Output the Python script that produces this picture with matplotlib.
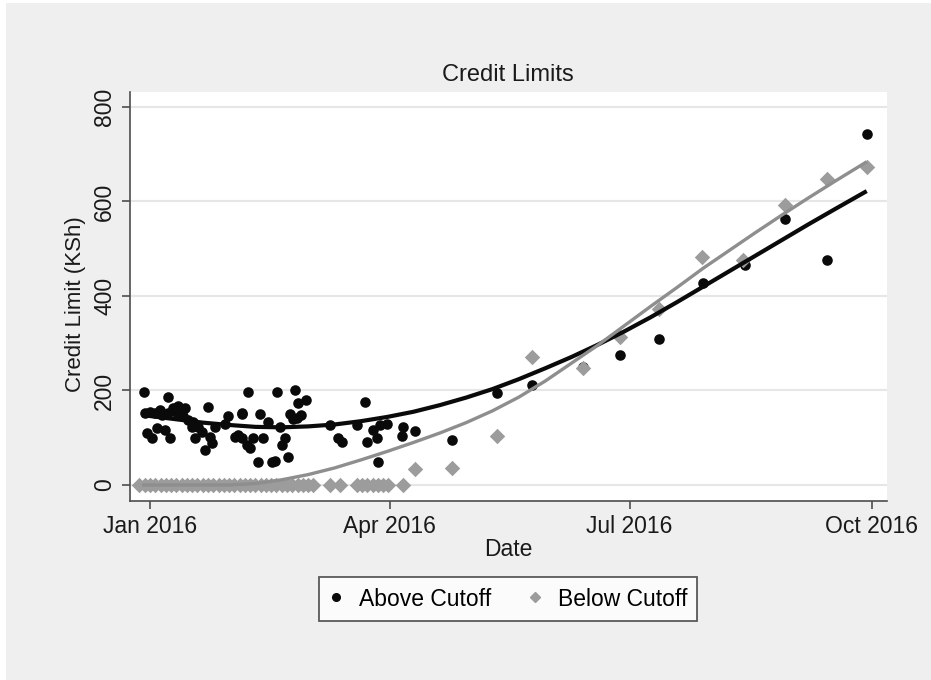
import matplotlib
matplotlib.use("Agg")
import matplotlib.pyplot as plt
from matplotlib.lines import Line2D
from matplotlib.patches import Rectangle

plt.rcParams["font.family"] = ["Liberation Sans", "DejaVu Sans"]

# days since 1 Jan 2016
above_day = [-2.2, 6.7, 22.1, -1.9, 0.0, 1.9, 3.8, 4.4, 6.9, 8.8, 10.7, 12.0, 13.3,
             10.1, 12.6, 14.5, 16.4, 15.8, 18.3, 19.6, 22.8, 23.4, 20.9, 17.1, 24.7,
             29.7, 28.5, -1.3, 0.6, 2.5, 5.7, 7.6, 32.3, 34.8,
             37.1, 48.1, 55.0, 56.3, 59.1, 35.0, 41.7, 53.1, 57.3, 54.4, 44.9, 49.3,
             33.5, 34.8, 39.2, 43.0, 36.7, 38.0, 51.2, 50.0, 41.1, 46.2, 47.4, 52.3,
             55.6, 68.3, 71.5, 72.8, 78.4, 81.6, 82.5, 84.7, 86.0, 87.3, 89.8, 86.4,
             96.1, 95.5, 100.6,
             114.6, 131.8, 144.9, 164.4, 178.4, 193.3, 209.7, 225.8, 240.9, 256.8, 272.1]
above_val = [197, 186, 166, 152, 155, 152, 159, 148, 152, 162, 167, 159, 162,
             152, 145, 138, 134, 123, 123, 113, 102, 88, 74, 99, 123,
             145, 130, 109, 99, 120, 116, 99, 102, 152,
             197, 197, 201, 173, 180, 150, 150, 150, 148, 139, 134, 123,
             106, 99, 99, 99, 85, 78, 99, 85, 49, 49, 51, 59,
             141, 128, 99, 92, 127, 175, 90, 116, 100, 127, 130, 48,
             123, 104, 114,
             95, 194, 212, 250, 275, 309, 427, 466, 562, 476, 743]

below_day = [-4, -2, 0, 2, 4, 6, 8, 10, 12, 14, 16, 18, 20, 22, 24, 26, 28, 30,
             32, 34, 36, 38, 40, 42, 44, 46, 48, 50, 52, 54, 56, 58, 60, 62,
             68.3, 72.1, 78.6, 80.5, 82.5, 84.5, 86.5, 88.6, 90.5, 96.0,
             100.6, 114.6, 131.8, 144.9, 164.4, 178.4, 193.3, 209.3, 225.2,
             241.0, 256.8, 272.0]
below_val = [0] * 44 + [34, 35, 104, 270, 247, 313, 372, 483, 476, 593, 647, 674]

# fitted curves
above_fit_day = [-3, 10, 20, 30, 40, 50, 60, 70, 80, 90, 100, 110, 120, 130, 140,
                 150, 160, 170, 180, 190, 200, 210, 220, 230, 240, 250, 260, 272]
above_fit_val = [148, 139, 132, 127, 123, 122, 124, 128, 135, 144, 155, 169, 185,
                 203, 224, 247, 271, 297, 325, 355, 387, 420, 453, 486, 519, 552,
                 584, 622]

below_fit_day = [-3, 30, 40, 50, 60, 70, 80, 90, 100, 110, 120, 130, 140, 150, 160,
                 170, 180, 190, 200, 210, 220, 230, 240, 250, 260, 272]
below_fit_val = [0, 0, 3, 11, 22, 36, 53, 71, 90, 110, 132, 157, 186, 220, 258,
                 296, 337, 378, 418, 459, 497, 535, 572, 608, 643, 684]

x_ticks = [0, 91, 182, 274]
x_labels = ["Jan 2016", "Apr 2016", "Jul 2016", "Oct 2016"]
y_ticks = [0, 200, 400, 600, 800]

W, H = 931, 680
fig = plt.figure(figsize=(W / 100, H / 100), dpi=100, facecolor="white")
fig.patches.append(Rectangle((6 / W, 0), 1, 677 / H, transform=fig.transFigure,
                             facecolor="#efefef", edgecolor="none", zorder=-5))
ax = fig.add_axes([130 / W, 179 / H, 757 / W, 409 / H])
ax.set_facecolor("white")

ax.scatter(above_day, above_val, s=58, color="#0a0a0a", linewidths=0, zorder=3)
ax.scatter(below_day, below_val, s=62, marker="D", color="#9c9c9c", linewidths=0, zorder=4)
ax.plot(above_fit_day, above_fit_val, color="#0a0a0a", lw=3.0, zorder=5,
        solid_capstyle="butt", solid_joinstyle="round")
ax.plot(below_fit_day, below_fit_val, color="#8e8e8e", lw=2.4, zorder=6,
        solid_capstyle="butt", solid_joinstyle="round")

ax.set_xlim(-7.6, 279.7)
ax.set_ylim(-33.9, 831.7)
ax.set_xticks(x_ticks)
ax.set_xticklabels(x_labels)
ax.set_yticks(y_ticks)
ax.set_yticklabels([str(v) for v in y_ticks], rotation=90, va="center")

for side in ["top", "right"]:
    ax.spines[side].set_visible(False)
for side in ["left", "bottom"]:
    ax.spines[side].set_color("#4d4d4d")
    ax.spines[side].set_linewidth(1.2)
ax.tick_params(length=6, width=1.2, color="#4d4d4d", labelsize=16.5,
               labelcolor="#1a1a1a", pad=4)
ax.yaxis.grid(True, color="#e6e6e6", lw=1.5)
ax.set_axisbelow(True)

fig.text(508 / W, 1 - 75 / H, "Credit Limits", ha="center", va="center",
         fontsize=17, color="#1a1a1a")
fig.text(508 / W, 1 - 550 / H, "Date", ha="center", va="center",
         fontsize=16.5, color="#1a1a1a")
fig.text(75 / W, 1 - 304 / H, "Credit Limit (KSh)", ha="center", va="center",
         rotation=90, fontsize=16, color="#1a1a1a")

handles = [Line2D([], [], ls="none", marker="o", ms=5.5, color="#0a0a0a"),
           Line2D([], [], ls="none", marker="D", ms=5, color="#9c9c9c")]
leg = fig.legend(handles, ["Above Cutoff", "Below Cutoff"], loc="center",
                 bbox_to_anchor=(508 / W, 1 - 599 / H), ncol=2, fontsize=16.5,
                 frameon=True, fancybox=False, edgecolor="#333333",
                 handlelength=0.6, handletextpad=0.7, columnspacing=1.6,
                 borderpad=0.45)
leg.get_frame().set_linewidth(1.3)

fig.savefig("out.png", dpi=100, facecolor=fig.get_facecolor())
